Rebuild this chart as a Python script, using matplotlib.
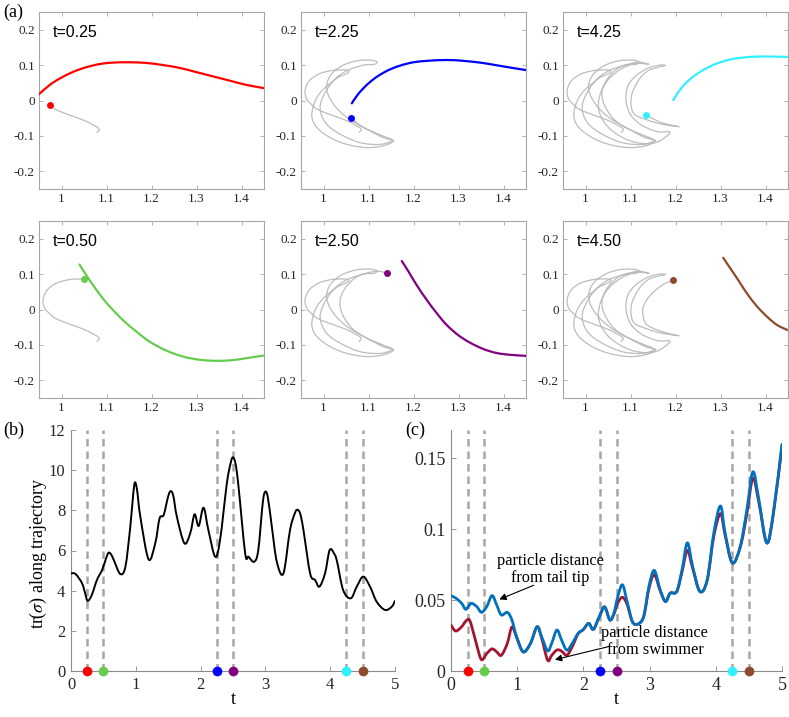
import numpy as np
import matplotlib.pyplot as plt
from matplotlib.path import Path
from matplotlib.patches import PathPatch

plt.rcParams['font.family'] = 'Liberation Serif'
plt.rcParams['mathtext.fontset'] = 'stix'

# ---------------- data: panel (a) ----------------
traj_x = [1.079, 1.084, 1.081, 1.070, 1.048, 1.011, 0.985, 0.974, 0.963, 0.959,
          0.968, 0.990, 1.020, 1.051,
          1.056, 1.045, 1.030, 1.000, 0.982, 0.974, 0.985, 1.015, 1.052, 1.096,
          1.133, 1.156,
          1.133, 1.096, 1.052, 1.022, 1.007, 1.015, 1.041, 1.074, 1.104, 1.119,
          1.112, 1.089, 1.052, 1.022, 0.998, 0.993, 1.007, 1.037, 1.081, 1.126,
          1.152,
          1.126, 1.089, 1.061, 1.041, 1.037, 1.048, 1.070, 1.096, 1.122, 1.141,
          1.130, 1.108, 1.078, 1.050, 1.032, 1.030, 1.048, 1.080, 1.118, 1.158,
          1.188,
          1.160, 1.125, 1.100, 1.090, 1.094, 1.112, 1.140, 1.165, 1.178,
          1.168, 1.140, 1.118, 1.102, 1.106, 1.135, 1.170, 1.208,
          1.185, 1.160, 1.134, 1.127, 1.135, 1.150, 1.172, 1.195]
traj_y = [-0.090, -0.083, -0.077, -0.069, -0.055, -0.038, -0.024, -0.012, 0.003, 0.027,
          0.055, 0.075, 0.085, 0.086,
          0.080, 0.072, 0.063, 0.032, 0.000, -0.043, -0.076, -0.105, -0.124, -0.133,
          -0.128, -0.114,
          -0.105, -0.081, -0.048, -0.010, 0.032, 0.070, 0.098, 0.112, 0.114, 0.109,
          0.102, 0.100, 0.084, 0.056, 0.008, -0.029, -0.067, -0.095, -0.119, -0.124,
          -0.112,
          -0.097, -0.076, -0.050, -0.010, 0.027, 0.060, 0.089, 0.103, 0.108, 0.102,
          0.104, 0.104, 0.088, 0.058, 0.015, -0.030, -0.072, -0.103, -0.120, -0.118,
          -0.090,
          -0.088, -0.070, -0.040, 0.000, 0.040, 0.070, 0.092, 0.100, 0.099,
          0.096, 0.085, 0.057, 0.012, -0.035, -0.054, -0.067, -0.074,
          -0.068, -0.058, -0.040, -0.002, 0.025, 0.048, 0.070, 0.083]

snap_times = [0.25, 2.25, 4.25, 0.50, 2.50, 4.50]
snap_index = [7, 49, 87, 13, 56, 92]     # last trajectory point shown
snap_colors = ['#ff0000', '#0000ff', '#33f0ff', '#66cc4d', '#800080', '#8c4b2c']

# swimmer tail shapes
tail_x_025 = [0.950, 0.974, 0.996, 1.026, 1.055, 1.085, 1.114, 1.151, 1.189, 1.226,
              1.263, 1.300, 1.337, 1.374, 1.411, 1.450]
tail_y_025 = [0.018, 0.044, 0.062, 0.081, 0.094, 0.103, 0.107, 0.108, 0.106, 0.100,
              0.092, 0.080, 0.068, 0.056, 0.044, 0.035]
tail_x_225 = [1.063, 1.074, 1.089, 1.107, 1.126, 1.148, 1.174, 1.200, 1.230, 1.259,
              1.289, 1.319, 1.348, 1.378, 1.415, 1.450]
tail_y_225 = [-0.008, 0.013, 0.035, 0.056, 0.073, 0.088, 0.100, 0.108, 0.112, 0.114,
              0.114, 0.111, 0.107, 0.101, 0.093, 0.086]
tail_x_425 = [1.195, 1.207, 1.222, 1.241, 1.263, 1.289, 1.319, 1.348, 1.381, 1.419, 1.449]
tail_y_425 = [0.001, 0.025, 0.048, 0.069, 0.087, 0.103, 0.115, 0.121, 0.124, 0.124, 0.123]
tail_x_050 = [1.040, 1.055, 1.070, 1.092, 1.114, 1.140, 1.166, 1.196, 1.233, 1.270,
              1.307, 1.344, 1.381, 1.418, 1.450]
tail_y_050 = [0.127, 0.097, 0.069, 0.031, -0.001, -0.034, -0.062, -0.091, -0.116, -0.133,
              -0.142, -0.145, -0.143, -0.136, -0.130]
tail_x_250 = [1.174, 1.189, 1.207, 1.230, 1.252, 1.274, 1.300, 1.326, 1.356, 1.385,
              1.415, 1.450]
tail_y_250 = [0.137, 0.107, 0.069, 0.026, -0.011, -0.044, -0.073, -0.094, -0.112, -0.123,
              -0.128, -0.131]
tail_x_450 = [1.306, 1.322, 1.341, 1.359, 1.381, 1.404, 1.426, 1.449]
tail_y_450 = [0.146, 0.116, 0.080, 0.045, 0.009, -0.021, -0.044, -0.058]

tails = [(tail_x_025, tail_y_025), (tail_x_225, tail_y_225), (tail_x_425, tail_y_425),
         (tail_x_050, tail_y_050), (tail_x_250, tail_y_250), (tail_x_450, tail_y_450)]

# ---------------- data: panel (b) ----------------
t_b = [0.00, 0.07, 0.17, 0.22, 0.257, 0.32, 0.40, 0.48, 0.54, 0.58, 0.62, 0.66, 0.76,
       0.84, 0.915, 0.96, 0.987, 1.02, 1.07, 1.197, 1.30, 1.367, 1.43, 1.50, 1.54,
       1.58, 1.634, 1.75, 1.84, 1.907, 1.97, 2.045, 2.12, 2.225, 2.30, 2.405, 2.46,
       2.497, 2.54, 2.585, 2.688, 2.739, 2.826, 2.89, 2.96, 3.00, 3.04, 3.099, 3.176,
       3.278, 3.38, 3.46, 3.50, 3.54, 3.587, 3.69, 3.767, 3.834, 3.92, 3.98, 4.013,
       4.05, 4.10, 4.20, 4.317, 4.41, 4.51, 4.615, 4.717, 4.846, 4.95, 5.00]
trace_b = [4.86, 4.83, 4.37, 3.85, 3.49, 3.78, 4.53, 5.03, 5.60, 5.89, 5.80, 5.53, 4.83,
           5.20, 7.19, 8.80, 9.39, 9.00, 7.68, 5.56, 6.36, 7.60, 7.77, 8.70, 8.96,
           8.70, 7.68, 6.36, 6.86, 7.80, 7.22, 8.13, 7.02, 5.69, 6.52, 9.34, 10.30,
           10.64, 10.30, 9.18, 5.86, 5.69, 5.44, 6.02, 8.40, 8.93, 8.60, 7.19, 5.44,
           4.86, 7.02, 7.90, 8.02, 7.80, 7.02, 4.86, 4.53, 4.20, 4.86, 5.90, 6.07,
           5.90, 5.53, 4.03, 3.62, 4.20, 4.70, 4.20, 3.45, 3.04, 3.20, 3.49]

# ---------------- data: panel (c) ----------------
t_c = [0.00, 0.07, 0.16, 0.22, 0.27, 0.31, 0.39, 0.46, 0.54, 0.62, 0.69, 0.76, 0.85,
       0.92, 0.99, 1.09, 1.20, 1.30, 1.37, 1.46, 1.52, 1.60, 1.67, 1.75, 1.83, 1.92,
       2.00, 2.08, 2.15, 2.24, 2.32, 2.40, 2.46, 2.52, 2.59, 2.66, 2.74, 2.82, 2.91,
       2.99, 3.07, 3.16, 3.24, 3.31, 3.41, 3.49, 3.57, 3.65, 3.76, 3.87, 3.97, 4.07,
       4.14, 4.25, 4.37, 4.47, 4.56, 4.65, 4.77, 4.87, 5.00]
dist_tip = [0.0530, 0.0515, 0.0478, 0.0435, 0.0460, 0.0478, 0.0454, 0.0414, 0.0454,
            0.0532, 0.0466, 0.0395, 0.0414, 0.0360, 0.0241, 0.0135, 0.0194, 0.0312,
            0.0241, 0.0142, 0.0194, 0.0289, 0.0218, 0.0147, 0.0194, 0.0265, 0.0293,
            0.0336, 0.0293, 0.0383, 0.0454, 0.0360, 0.0407, 0.0525, 0.0608, 0.0490,
            0.0348, 0.0331, 0.0383, 0.0596, 0.0710, 0.0573, 0.0490, 0.0549, 0.0561,
            0.0714, 0.0904, 0.0738, 0.0561, 0.0643, 0.0975, 0.1164, 0.0975, 0.0762,
            0.0880, 0.1140, 0.1405, 0.1211, 0.0904, 0.1117, 0.1600]
dist_swim = [0.0324, 0.0282, 0.0312, 0.0350, 0.0364, 0.0320, 0.0180, 0.0080, 0.0123,
             0.0156, 0.0135, 0.0111, 0.0194, 0.0310, 0.0241, 0.0135, 0.0194, 0.0312,
             0.0230, 0.0076, 0.0110, 0.0148, 0.0140, 0.0111, 0.0170, 0.0262, 0.0293,
             0.0336, 0.0293, 0.0383, 0.0450, 0.0360, 0.0400, 0.0480, 0.0520, 0.0470,
             0.0348, 0.0331, 0.0383, 0.0580, 0.0680, 0.0565, 0.0490, 0.0549, 0.0561,
             0.0700, 0.0850, 0.0725, 0.0561, 0.0640, 0.0950, 0.1110, 0.0960, 0.0762,
             0.0875, 0.1110, 0.1360, 0.1190, 0.0904, 0.1110, 0.1590]

marker_times = [0.25, 0.50, 2.25, 2.50, 4.25, 4.50]
marker_colors = ['#ff0000', '#66cc4d', '#0000ff', '#800080', '#33f0ff', '#8c4b2c']


def smooth_line(ax, x, y, color, lw, zorder=2):
    # draw the read points as one smooth Bezier path (Catmull-Rom tangents)
    p = np.column_stack([x, y]).astype(float)
    verts = [p[0]]
    codes = [Path.MOVETO]
    for i in range(len(p) - 1):
        p0 = p[i - 1] if i > 0 else p[i]
        p3 = p[i + 2] if i + 2 < len(p) else p[i + 1]
        verts += [p[i] + (p[i + 1] - p0) / 6, p[i + 1] - (p3 - p[i]) / 6, p[i + 1]]
        codes += [Path.CURVE4] * 3
    ax.add_patch(PathPatch(Path(verts, codes), fill=False, edgecolor=color, lw=lw,
                           capstyle='round', joinstyle='round', zorder=zorder))


# ---------------- layout ----------------
W, H = 789, 717
fig = plt.figure(figsize=(W / 100, H / 100), dpi=100)


def px_axes(left, top, width, height):
    return fig.add_axes([left / W, 1 - (top + height) / H, width / W, height / H])


spine_gray = '#a6a6a6'
label_col = '#262626'

col_left = [39, 301, 563]
row_top = [12, 221]
for i in range(6):
    ax = px_axes(col_left[i % 3], row_top[i // 3], 225, 177)
    idx = snap_index[i]
    col = snap_colors[i]
    smooth_line(ax, traj_x[:idx + 1], traj_y[:idx + 1], '#bdbdbd', 0.9)
    sx, sy = tails[i]
    smooth_line(ax, sx, sy, col, 1.6, zorder=3)
    ax.plot(traj_x[idx], traj_y[idx], 'o', color=col, ms=5, mec='none', zorder=4)
    ax.set_xlim(0.95, 1.45)
    ax.set_ylim(-0.25, 0.25)
    ax.set_xticks([1, 1.1, 1.2, 1.3, 1.4])
    ax.set_xticklabels(['1', '1.1', '1.2', '1.3', '1.4'])
    ax.set_yticks([-0.2, -0.1, 0, 0.1, 0.2])
    ax.set_yticklabels(['-0.2', '-0.1', '0', '0.1', '0.2'])
    ax.tick_params(direction='in', length=3, width=0.6, top=True, right=True,
                   color=spine_gray, labelcolor=label_col, labelsize=9.5, pad=3)
    for s in ax.spines.values():
        s.set_color(spine_gray)
        s.set_linewidth(0.8)
    ax.text(0.06, 0.885, 't=%.2f' % snap_times[i], transform=ax.transAxes,
            family='Liberation Sans', fontsize=11.5, va='center', ha='left')

fig.text(3 / W, 1 - 12 / H, '(a)', fontsize=13, va='center', ha='left')


def style_bottom(ax):
    for side in ['top', 'right']:
        ax.spines[side].set_visible(False)
    for side in ['left', 'bottom']:
        ax.spines[side].set_color('#8c8c8c')
        ax.spines[side].set_linewidth(0.8)
    ax.tick_params(direction='in', length=3.5, width=0.6, color='#8c8c8c',
                   labelcolor=label_col, labelsize=12, pad=4)
    ax.set_xlim(0, 5)
    ax.set_xticks([0, 1, 2, 3, 4, 5])
    for tm in marker_times:
        ax.plot([tm, tm], [0, ax.get_ylim()[1]], color='#a6a6a6', lw=1.8,
                dashes=(3, 2), zorder=1)
    for tm, c in zip(marker_times, marker_colors):
        ax.plot(tm, 0, 'o', color=c, ms=7, mec='none', clip_on=False, zorder=5)
    ax.set_xlabel('t', fontsize=13)


# panel (b)
axb = px_axes(71, 430, 324, 241)
axb.set_ylim(0, 12)
axb.set_yticks(range(0, 13, 2))
smooth_line(axb, t_b, trace_b, 'black', 1.4, zorder=3)
style_bottom(axb)
axb.set_ylabel(r'tr($\sigma$) along trajectory', fontsize=13)
axb.yaxis.set_label_coords(-0.068, 0.49)
axb.xaxis.set_label_coords(0.5, -0.085)
fig.text(3 / W, 1 - 430 / H, '(b)', fontsize=13, va='center', ha='left')

# panel (c)
axc = px_axes(451, 430, 331, 241)
axc.set_ylim(0, 0.17)
axc.set_yticks([0, 0.05, 0.1, 0.15])
axc.set_yticklabels(['0', '0.05', '0.1', '0.15'])
smooth_line(axc, t_c, dist_swim, '#a2142f', 2.0, zorder=3)
smooth_line(axc, t_c, dist_tip, '#0072bd', 2.0, zorder=4)
style_bottom(axc)
axc.tick_params(labelsize=13)
axc.xaxis.set_label_coords(0.5, -0.085)

axc.text(1.5, 0.0718, 'particle distance\nfrom tail tip', ha='center', va='center',
         fontsize=11.8, linespacing=1.05)
axc.annotate('', xy=(0.73, 0.0505), xytext=(1.25, 0.0605),
             arrowprops=dict(arrowstyle='-|>', color='black', lw=0.8,
                             shrinkA=0, shrinkB=0, mutation_scale=10))
axc.text(3.08, 0.0206, 'particle distance\nfrom swimmer', ha='center', va='center',
         fontsize=11.8, linespacing=1.05)
axc.annotate('', xy=(1.57, 0.008), xytext=(2.38, 0.0172),
             arrowprops=dict(arrowstyle='-|>', color='black', lw=0.8,
                             shrinkA=0, shrinkB=0, mutation_scale=10))
fig.text(405 / W, 1 - 430 / H, '(c)', fontsize=13, va='center', ha='left')

plt.savefig('out.png', dpi=100)
